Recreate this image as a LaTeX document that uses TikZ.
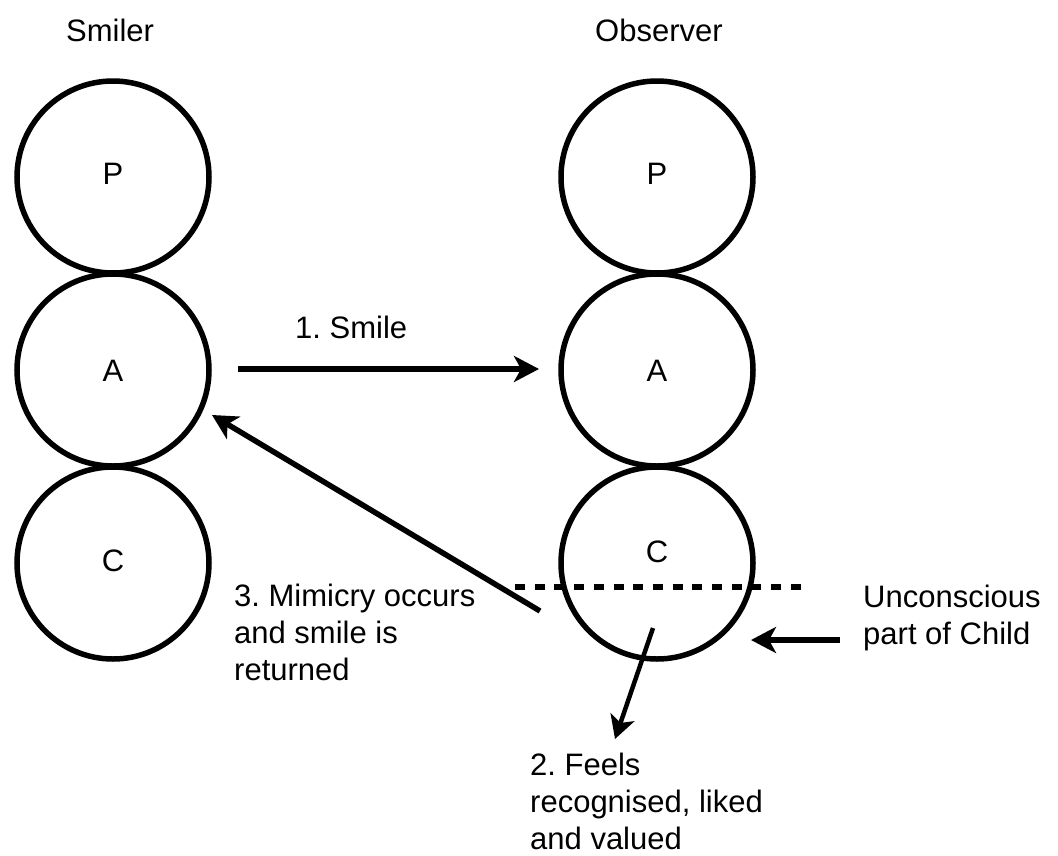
\documentclass[tikz,border=0pt]{standalone}
\usepackage{fontspec}
\setmainfont{Liberation Sans}
\usetikzlibrary{arrows.meta}
\frenchspacing
\begin{document}
\begin{tikzpicture}[x=1pt,y=-1pt,
  ego/.style={circle,draw,line width=5.5pt,minimum size=192pt,inner sep=0pt},
  lbl/.style={font=\fontsize{31}{37}\selectfont\frenchspacing,inner sep=0pt,align=left},
  conn/.style={line width=5.5pt,-{Stealth[length=25pt,width=26pt,inset=7pt]}},
  thinconn/.style={line width=4.5pt,-{Stealth[length=23pt,width=25pt,inset=6pt]}},
  dashline/.style={line width=5.5pt,dash pattern=on 10pt off 9.7pt}]
\useasboundingbox (0,0) rectangle (1058,855);
% circles
\node[ego] (sP) at (113,177) {};
\node[ego] (sA) at (113,370) {};
\node[ego] (sC) at (113,563) {};
\node[ego] (oP) at (657,177) {};
\node[ego] (oA) at (657,370) {};
\node[ego] (oC) at (657,563) {};
% letters
\node[lbl,anchor=base] (sPl) at (113,184) {P};
\node[lbl,anchor=base] (sAl) at (113,381) {A};
\node[lbl,anchor=base] (sCl) at (113,571) {C};
\node[lbl,anchor=base] (oPl) at (657,184) {P};
\node[lbl,anchor=base] (oAl) at (657,381) {A};
\node[lbl,anchor=base] (oCl) at (657,562) {C};
% headings
\node[lbl,anchor=base west] (smiler) at (66,41) {Smiler};
\node[lbl,anchor=base west] (observer) at (595,41) {Observer};
% labels (base = baseline of last line)
\node[lbl,anchor=base west] (smile) at (295,338) {1. Smile};
\node[lbl,anchor=base west] (mimic) at (234,680) {3. Mimicry occurs\\and smile is\\returned};
\node[lbl,anchor=base west] (uncon) at (863,644) {Unconscious\\part of Child};
\node[lbl,anchor=base west] (feels) at (530,849) {2. Feels\\recognised, liked\\and valued};
% connector ends
\coordinate (a1s) at (238,369);
\coordinate (a1e) at (539,369);
\coordinate (a3s) at (540,611);
\coordinate (a3e) at (212,415);
\coordinate (a2s) at (653,628);
\coordinate (a2e) at (615,739);
\coordinate (a4s) at (840,640);
\coordinate (a4e) at (751,640);
\coordinate (d1) at (515,587);
\coordinate (d2) at (803,587);
% connectors
\draw[conn] (a1s) -- (a1e);
\draw[conn] (a3s) -- (a3e);
\draw[thinconn] (a2s) -- (a2e);
\draw[conn] (a4s) -- (a4e);
\draw[dashline] (d1) -- (d2);
\end{tikzpicture}
\end{document}
